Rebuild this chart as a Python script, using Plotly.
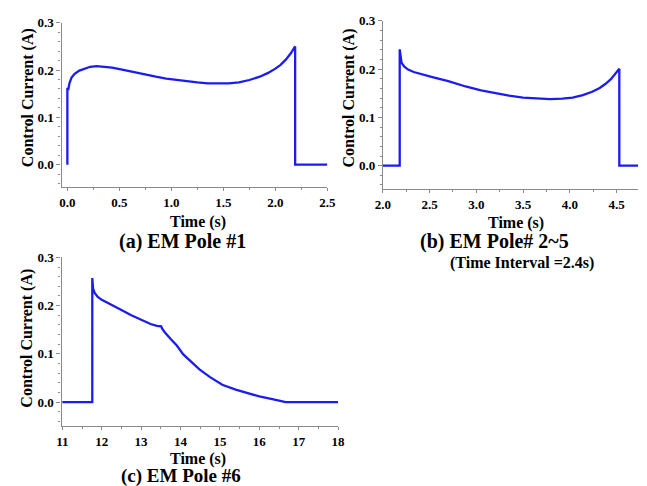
import plotly.graph_objects as go

# Panel (a) EM Pole #1
t_a = [0.0, 0.0, 0.01, 0.02, 0.04, 0.07, 0.115, 0.17, 0.22, 0.28, 0.35, 0.43, 0.55, 0.65, 0.75, 0.85,
       0.95, 1.05, 1.15, 1.25, 1.35, 1.45, 1.55, 1.65, 1.75, 1.85, 1.93, 2.0, 2.05, 2.1, 2.15, 2.19, 2.19, 2.5]
i_a = [0.0, 0.16, 0.16, 0.172, 0.184, 0.192, 0.199, 0.204, 0.207, 0.2085, 0.2075, 0.205, 0.2, 0.195, 0.19, 0.186,
       0.182, 0.179, 0.176, 0.174, 0.172, 0.1715, 0.172, 0.174, 0.179, 0.186, 0.194, 0.203, 0.211, 0.222, 0.236, 0.25, 0.0, 0.0]

# Panel (b) EM Pole# 2~5
t_b = [2.0, 2.18, 2.18, 2.19, 2.2, 2.23, 2.27, 2.33, 2.4, 2.54, 2.7, 2.885, 3.05, 3.2, 3.35, 3.5, 3.65, 3.79,
       3.92, 4.03, 4.14, 4.24, 4.32, 4.38, 4.44, 4.49, 4.53, 4.53, 4.75]
i_b = [0.0, 0.0, 0.241, 0.222, 0.213, 0.205, 0.199, 0.194, 0.19, 0.183, 0.175, 0.164, 0.156, 0.15, 0.145, 0.141, 0.139, 0.138,
       0.139, 0.141, 0.146, 0.153, 0.161, 0.169, 0.179, 0.19, 0.2005, 0.0, 0.0]

# Panel (c) EM Pole #6
t_c = [11.0, 11.76, 11.76, 11.78, 11.82, 11.9, 12.0, 12.25, 12.5, 12.75, 13.0, 13.24, 13.4, 13.51, 13.53, 13.6,
       13.75, 13.9, 14.07, 14.32, 14.48, 14.75, 15.06, 15.4, 15.72, 16.0, 16.3, 16.67, 18.0]
i_c = [0.0, 0.0, 0.257, 0.235, 0.2265, 0.218, 0.212, 0.202, 0.191, 0.18, 0.17, 0.162, 0.158, 0.157, 0.153, 0.145,
       0.131, 0.118, 0.099, 0.079, 0.068, 0.052, 0.036, 0.026, 0.018, 0.012, 0.007, 0.0, 0.0]

x_ticks_a = [0.0, 0.5, 1.0, 1.5, 2.0, 2.5]
x_ticks_b = [2.0, 2.5, 3.0, 3.5, 4.0, 4.5]
x_ticks_c = [11, 12, 13, 14, 15, 16, 17, 18]
y_ticks = [0.0, 0.1, 0.2, 0.3]

W, H = 647, 486
LINE = "#1c1cf0"
AX = "#8a8a8a"
SERIF = "Liberation Serif, Times New Roman, serif"

def px(x):
    return x / W

def py(y):
    return 1 - y / H

fig = go.Figure()
for t, i, xa, ya in [(t_a, i_a, "x", "y"), (t_b, i_b, "x2", "y2"), (t_c, i_c, "x3", "y3")]:
    fig.add_trace(go.Scatter(x=t, y=i, mode="lines", line=dict(color=LINE, width=2.3),
                             xaxis=xa, yaxis=ya, hoverinfo="skip"))

tickfont = dict(family=SERIF, size=13, color="black")

def xax(rng, ticks, fmt, dom, anchor, minor_dt):
    return dict(range=rng, domain=dom, anchor=anchor, tickvals=ticks,
                ticktext=["<b>" + fmt.format(v) + "</b>" for v in ticks],
                showline=True, linecolor=AX, linewidth=1.2, ticks="outside",
                ticklen=3, tickcolor=AX, showgrid=False, zeroline=False,
                tickfont=tickfont,
                minor=dict(dtick=minor_dt, ticks="outside", ticklen=2, tickcolor=AX))

def yax(rng, dom, anchor):
    return dict(range=rng, domain=dom, anchor=anchor, tickvals=y_ticks,
                ticktext=["<b>{:.1f}</b>".format(v) for v in y_ticks],
                showline=True, linecolor=AX, linewidth=1.2, ticks="outside",
                ticklen=4, tickcolor=AX, showgrid=False, zeroline=False,
                tickfont=tickfont,
                minor=dict(tick0=0, dtick=0.02, ticks="outside", ticklen=2, tickcolor=AX))

fig.update_layout(
    width=W, height=H,
    margin=dict(l=0, r=0, t=0, b=0),
    paper_bgcolor="white", plot_bgcolor="white",
    showlegend=False,
    xaxis=xax([-0.056, 2.5], x_ticks_a, "{:.1f}", [px(55), px(328)], "y", 0.25),
    yaxis=yax([-0.048, 0.3], [py(183), py(16)], "x"),
    xaxis2=xax([2.0, 4.73], x_ticks_b, "{:.1f}", [px(385), 1.0], "y2", 0.25),
    yaxis2=yax([-0.049, 0.3], [py(185), py(14)], "x2"),
    xaxis3=xax([10.98, 18], x_ticks_c, "{:d}", [px(55), px(339)], "y3", 0.5),
    yaxis3=yax([-0.049, 0.3], [py(425), py(254)], "x3"),
)

def ann(text, x, y, size, angle=0):
    fig.add_annotation(text=text, x=px(x), y=py(y), xref="paper", yref="paper",
                       showarrow=False, textangle=angle, xanchor="center", yanchor="middle",
                       font=dict(family=SERIF, size=size, color="black"))

# axis titles
ann("<b>Control Current (A)</b>", 20, 92, 16, -90)
ann("<b>Control Current (A)</b>", 350, 92, 16, -90)
ann("<b>Control Current (A)</b>", 20, 336, 16, -90)
ann("<b>Time (s)</b>", 195, 218, 16)
ann("<b>Time (s)</b>", 522, 219, 16)
ann("<b>Time (s)</b>", 195, 459, 16)
# captions
ann("<b>(a) EM Pole #1</b>", 179, 238, 20)
ann("<b>(b) EM Pole# 2~5</b>", 500, 238, 20)
ann("<b>(Time Interval =2.4s)</b>", 528, 260, 16)
ann("<b>(c) EM Pole #6</b>", 178, 476, 19)

fig.write_html("out.html", config={"displayModeBar": False},
               post_script="document.body.style.margin='0';document.body.style.overflow='hidden';")
